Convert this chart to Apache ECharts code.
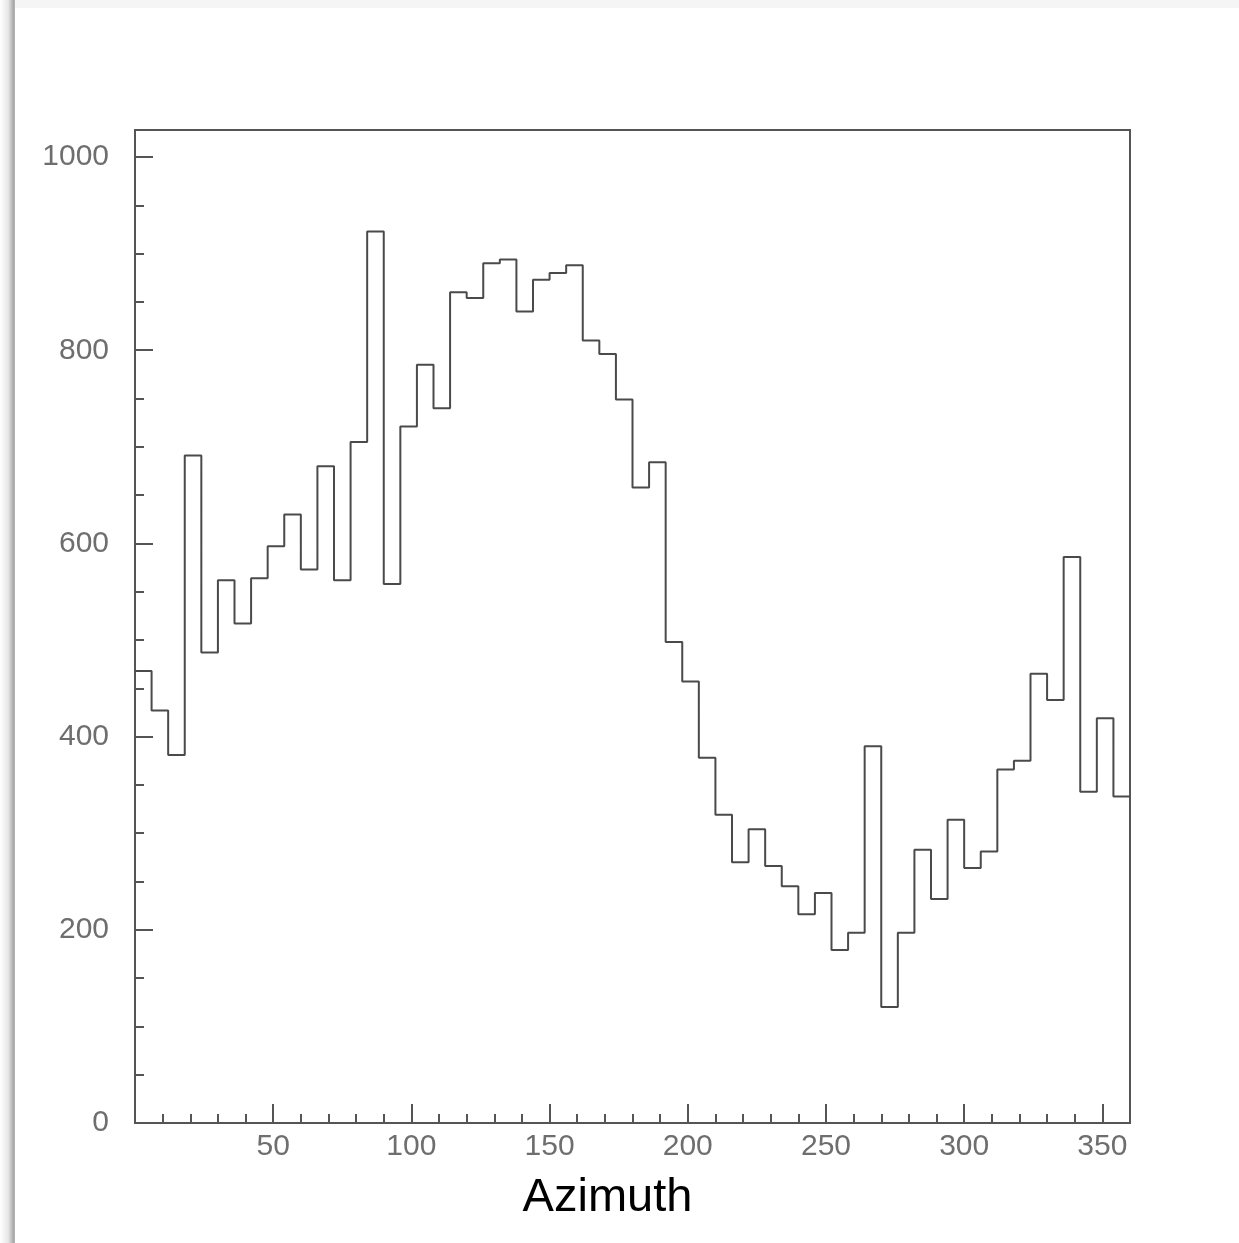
<!DOCTYPE html>
<html>
<head>
<meta charset="utf-8">
<script src="https://cdn.jsdelivr.net/npm/echarts@6/dist/echarts.min.js"></script>
<style>
  html, body { margin: 0; padding: 0; background: #ffffff; }
  #chart { width: 1239px; height: 1243px; }
</style>
</head>
<body>
<div id="chart"></div>
<script>
// Bin lower edges (degrees) of the azimuth histogram
const binLow = [0, 6, 12, 18, 24, 30, 36, 42, 48, 54,
                60, 66, 72, 78, 84, 90, 96, 102, 108, 114,
                120, 126, 132, 138, 144, 150, 156, 162, 168, 174,
                180, 186, 192, 198, 204, 210, 216, 222, 228, 234,
                240, 246, 252, 258, 264, 270, 276, 282, 288, 294,
                300, 306, 312, 318, 324, 330, 336, 342, 348, 354];
const binHighLast = 360;
// Counts per bin
const counts = [468, 427, 381, 691, 487, 562, 517, 564, 597, 630,
                573, 680, 562, 705, 923, 558, 721, 785, 740, 860,
                854, 890, 894, 840, 873, 880, 888, 810, 796, 749,
                658, 684, 498, 457, 378, 319, 270, 304, 266, 245,
                216, 238, 179, 197, 390, 120, 197, 283, 232, 314,
                264, 281, 366, 375, 465, 438, 586, 343, 419, 338];
const xTickLabels = [50, 100, 150, 200, 250, 300, 350];
const yTickLabels = [0, 200, 400, 600, 800, 1000];
const xTitle = 'Azimuth';

const X_MIN = 0, X_MAX = 360, Y_MIN = 0, Y_MAX = 1028;

const stepData = binLow.map((x, i) => [x, counts[i]]);
stepData.push([binHighLast, counts[counts.length - 1]]);

const labelColor = '#6e6e6e';
const frameColor = '#555555';
const fontFam = '"Liberation Sans", Arial, Helvetica, sans-serif';

const chart = echarts.init(document.getElementById('chart'), null, { renderer: 'canvas' });

const option = {
  animation: false,
  backgroundColor: '#ffffff',
  graphic: [
    {
      type: 'rect', silent: true, z: -10,
      shape: { x: 0, y: 0, width: 15, height: 1243 },
      style: {
        fill: new echarts.graphic.LinearGradient(0, 0, 1, 0, [
          { offset: 0, color: '#ffffff' },
          { offset: 0.55, color: '#e6e6e6' },
          { offset: 0.9, color: '#a8a8a8' },
          { offset: 1, color: '#b8b8b8' }
        ])
      }
    },
    {
      type: 'rect', silent: true, z: -10,
      shape: { x: 15, y: 0, width: 1224, height: 8 },
      style: { fill: '#f5f5f5' }
    }
  ],
  grid: {
    left: 135, right: 109, top: 130, bottom: 120,
    show: true, borderColor: frameColor, borderWidth: 2, backgroundColor: 'transparent'
  },
  xAxis: [
    {
      type: 'value', min: X_MIN, max: X_MAX, interval: 50, position: 'bottom',
      name: xTitle, nameLocation: 'middle', nameGap: 52,
      nameTextStyle: { fontSize: 47, color: '#000000', fontFamily: fontFam, padding: [0, 50, 0, 0] },
      axisLine: { show: true, lineStyle: { color: frameColor, width: 2 } },
      axisTick: { show: true, inside: true, length: 19, lineStyle: { color: frameColor, width: 2 } },
      axisLabel: {
        show: true, margin: 9, fontSize: 30, color: labelColor, fontFamily: fontFam,
        formatter: function (v) { return xTickLabels.indexOf(v) >= 0 ? String(v) : ''; }
      },
      splitLine: { show: false }
    },
    {
      type: 'value', min: X_MIN, max: X_MAX, interval: 10, position: 'bottom',
      axisLine: { show: false },
      axisTick: { show: true, inside: true, length: 9, lineStyle: { color: frameColor, width: 2 } },
      axisLabel: { show: false },
      splitLine: { show: false }
    }
  ],
  yAxis: [
    {
      type: 'value', min: Y_MIN, max: Y_MAX, interval: 200, position: 'left',
      axisLine: { show: true, lineStyle: { color: frameColor, width: 2 } },
      axisTick: { show: true, inside: true, length: 18, lineStyle: { color: frameColor, width: 2 } },
      axisLabel: {
        show: true, margin: 26, fontSize: 30, color: labelColor, fontFamily: fontFam,
        formatter: function (v) { return yTickLabels.indexOf(v) >= 0 ? String(v) : ''; }
      },
      splitLine: { show: false }
    },
    {
      type: 'value', min: Y_MIN, max: Y_MAX, interval: 50, position: 'left',
      axisLine: { show: false },
      axisTick: { show: true, inside: true, length: 9, lineStyle: { color: frameColor, width: 2 } },
      axisLabel: { show: false },
      splitLine: { show: false }
    }
  ],
  series: [
    {
      type: 'line', step: 'end', xAxisIndex: 0, yAxisIndex: 0,
      data: stepData, showSymbol: false, symbol: 'none',
      lineStyle: { color: '#4a4a4a', width: 2 },
      clip: true
    }
  ]
};
chart.setOption(option);
</script>
</body>
</html>
